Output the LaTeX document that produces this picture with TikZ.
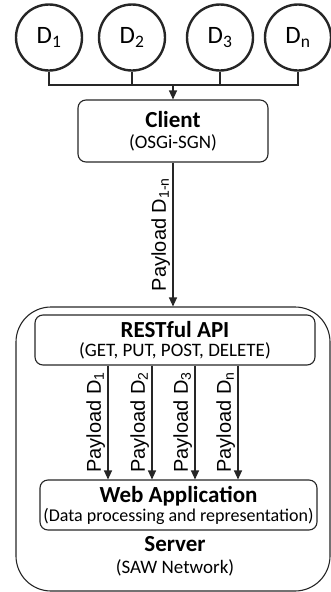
\documentclass[tikz,border=0pt]{standalone}
\usepackage{fontspec}
\setmainfont{Carlito}
\newfontfamily\labelfont{Liberation Sans}
\usetikzlibrary{arrows.meta}
\colorlet{ink}{black!85}
\tikzset{
  dev/.style={circle, draw=ink, line width=2.4pt, minimum size=66pt, inner sep=0pt,
    font=\fontsize{25}{27}\selectfont},
  box/.style={draw=ink, line width=1.1pt, rounded corners=8pt, align=center, inner sep=0pt,
    font=\fontsize{19}{20.5}\selectfont},
  wire/.style={draw=ink, line width=1.1pt},
  flow/.style={draw=ink, line width=1.1pt, -{Triangle[width=8pt,length=9pt]}},
  plabel/.style={rotate=90, anchor=south, inner sep=2.5pt, font=\labelfont\fontsize{20}{22}\selectfont},
}
\newcommand{\hd}[1]{{\bfseries\fontsize{23}{24}\selectfont #1}}
\begin{document}
\begin{tikzpicture}[x=1pt,y=-1pt]
\useasboundingbox (0,0) rectangle (331,592);

% devices
\node[dev] (d1) at (49,37.5) {D\textsubscript{1}};
\node[dev] (d2) at (132,37.5) {D\textsubscript{2}};
\node[dev] (d3) at (220,37.5) {D\textsubscript{3}};
\node[dev] (dn) at (298,37.5) {D\textsubscript{n}};

% bus joining the devices
\coordinate (b1) at (49,85);
\coordinate (b2) at (132,85);
\coordinate (b3) at (220,85);
\coordinate (bn) at (298,85);
\coordinate (bc) at (173,85);
\draw[wire] (d1.south) -- (b1) -- (bn) -- (dn.south);
\draw[wire] (d2.south) -- (b2);
\draw[wire] (d3.south) -- (b3);

% client
\node[box, minimum width=190pt, minimum height=62pt] (client) at (173,131)
  {\hd{Client}\\(OSGi-SGN)};
\draw[flow] (bc) -- (client.north);

% server frame
\node[draw=ink, line width=1.1pt, rounded corners=35pt, minimum width=314pt, minimum height=284pt]
  (server) at (173,449) {};
\node[align=center, inner sep=0pt, font=\fontsize{19}{22}\selectfont] (srvtext) at (175,556)
  {\hd{Server}\\(SAW Network)};

\draw[flow] (client.south) -- node[plabel, pos=0.5] {Payload D\textsubscript{1-n}} (server.north);

% API and web application
\node[box, minimum width=280pt, minimum height=50pt, font=\fontsize{19}{18.5}\selectfont] (api) at (175,340)
  {\hd{RESTful API}\\(GET, PUT, POST, DELETE)};
\node[box, minimum width=277pt, minimum height=50pt, font=\fontsize{18}{19}\selectfont] (web) at (178.5,505)
  {\hd{Web Application}\\(Data processing and representation)};

\foreach \x/\s in {108/1,152/2,195/3,238/n}{
  \draw[flow] (api.south -| \x,0) -- node[plabel] {Payload D\textsubscript{\s}} (web.north -| \x,0);
}
\end{tikzpicture}
\end{document}
